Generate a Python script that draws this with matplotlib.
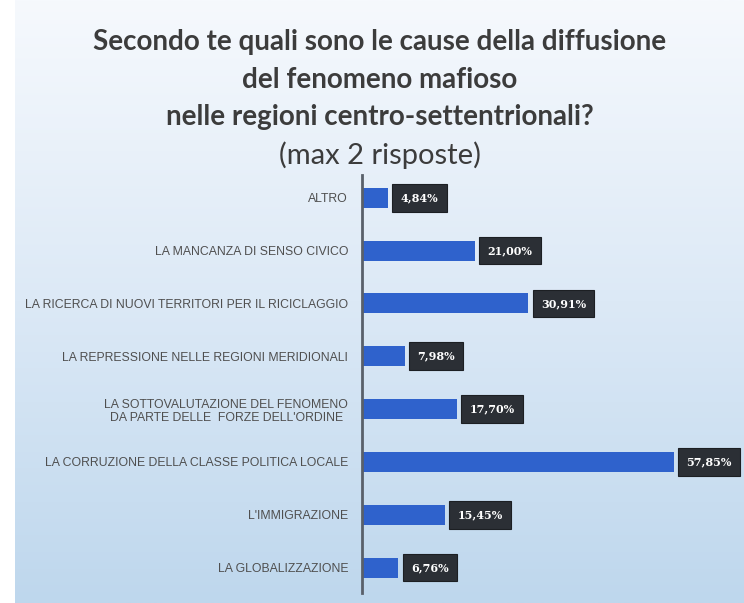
import numpy as np
import matplotlib.pyplot as plt

categories = [
    "ALTRO",
    "LA MANCANZA DI SENSO CIVICO",
    "LA RICERCA DI NUOVI TERRITORI PER IL RICICLAGGIO",
    "LA REPRESSIONE NELLE REGIONI MERIDIONALI",
    "LA SOTTOVALUTAZIONE DEL FENOMENO\nDA PARTE DELLE  FORZE DELL'ORDINE",
    "LA CORRUZIONE DELLA CLASSE POLITICA LOCALE",
    "L'IMMIGRAZIONE",
    "LA GLOBALIZZAZIONE",
]
values = [4.84, 21.00, 30.91, 7.98, 17.70, 57.85, 15.45, 6.76]
value_labels = ["4,84%", "21,00%", "30,91%", "7,98%", "17,70%", "57,85%", "15,45%", "6,76%"]

title_lines = [
    "Secondo te quali sono le cause della diffusione",
    "del fenomeno mafioso",
    "nelle regioni centro-settentrionali?",
]
subtitle = "(max 2 risposte)"

W, H = 744, 603
fig = plt.figure(figsize=(W / 100, H / 100), dpi=100)
fig.patch.set_facecolor("white")

# slide background: vertical gradient, white strip on the left
bg = fig.add_axes([15 / W, 0, 1 - 15 / W, 1], zorder=0)
top = np.array([246, 249, 253]) / 255
mid = np.array([220, 233, 246]) / 255
bot = np.array([190, 215, 237]) / 255
t = np.linspace(0, 1, 300)[:, None]
grad = np.where(t < 0.5, top + (mid - top) * (t / 0.5), mid + (bot - mid) * ((t - 0.5) / 0.5))
bg.imshow(grad[:, None, :], aspect="auto", extent=[0, 1, 1, 0])
bg.set_axis_off()

# title block
ys = [42, 80, 117]
for line, y in zip(title_lines, ys):
    fig.text(380 / W, 1 - y / H, line, ha="center", va="center", fontsize=20,
             fontweight="bold", family="Lato", color="#3c3c3c", zorder=3)
fig.text(380 / W, 1 - 155 / H, subtitle, ha="center", va="center", fontsize=21,
         family="Lato", color="#3c3c3c", zorder=3)

# bar chart
x0, x1 = 362, 739
y0, y1 = 175, 593
ax = fig.add_axes([x0 / W, 1 - y1 / H, (x1 - x0) / W, (y1 - y0) / H], zorder=2)
ax.patch.set_alpha(0)
pos = np.arange(len(categories))
ax.barh(pos, values, height=0.38, color="#2f62cc", zorder=2)
ax.set_xlim(0, 70)
ax.set_ylim(7.48, -0.43)

ax.set_yticks(pos)
ax.set_yticklabels(categories, fontsize=8.8, color="#4f4f4f", family="Liberation Sans",
                   multialignment="center")
ax.tick_params(axis="y", length=0, pad=10)
ax.set_xticks([])
for side in ["top", "right", "bottom"]:
    ax.spines[side].set_visible(False)
ax.spines["left"].set_color("#59606a")
ax.spines["left"].set_linewidth(2)

for p, v, lab in zip(pos, values, value_labels):
    ax.annotate(lab, (v, p), xytext=(9, 0), textcoords="offset points",
                ha="left", va="center", fontsize=8, fontweight="bold",
                color="white", family="DejaVu Serif",
                bbox=dict(boxstyle="square,pad=0.75", fc="#2b2f35", ec="#1c1f23", lw=0.8),
                zorder=4)

fig.savefig("out.png", dpi=100)
